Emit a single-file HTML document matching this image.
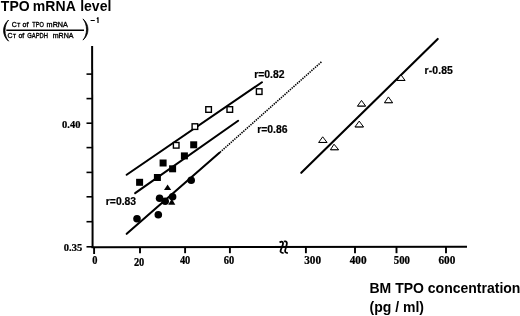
<!DOCTYPE html>
<html><head><meta charset="utf-8"><style>
html,body{margin:0;padding:0;background:#fff;width:520px;height:316px;overflow:hidden}
svg{display:block;filter:grayscale(1)}
</style></head><body>
<svg width="520" height="316" viewBox="0 0 520 316">
<rect width="520" height="316" fill="#fff"/>
<line x1="92.1" y1="46" x2="92.6" y2="248" stroke="#000" stroke-width="2"/>
<line x1="91.5" y1="247.35" x2="467" y2="246.8" stroke="#000" stroke-width="2"/>
<line x1="86.5" y1="74.1" x2="92.5" y2="74.1" stroke="#000" stroke-width="1.6"/>
<line x1="86.5" y1="98.6" x2="92.5" y2="98.6" stroke="#000" stroke-width="1.6"/>
<line x1="86.5" y1="123.2" x2="92.5" y2="123.2" stroke="#000" stroke-width="1.6"/>
<line x1="86.5" y1="147.6" x2="92.5" y2="147.6" stroke="#000" stroke-width="1.6"/>
<line x1="86.5" y1="172.4" x2="92.5" y2="172.4" stroke="#000" stroke-width="1.6"/>
<line x1="86.5" y1="196.8" x2="92.5" y2="196.8" stroke="#000" stroke-width="1.6"/>
<line x1="86.5" y1="221.7" x2="92.5" y2="221.7" stroke="#000" stroke-width="1.6"/>
<line x1="86.5" y1="246.8" x2="92.5" y2="246.8" stroke="#000" stroke-width="1.6"/>
<line x1="94.1" y1="247" x2="94.1" y2="254" stroke="#000" stroke-width="1.9"/>
<line x1="140" y1="247" x2="140" y2="253.2" stroke="#000" stroke-width="1.9"/>
<line x1="185.1" y1="247" x2="185.1" y2="253.2" stroke="#000" stroke-width="1.9"/>
<line x1="229.9" y1="247" x2="229.9" y2="253.2" stroke="#000" stroke-width="1.9"/>
<line x1="305.9" y1="247" x2="305.9" y2="253.2" stroke="#000" stroke-width="1.9"/>
<line x1="355" y1="247" x2="355" y2="253.2" stroke="#000" stroke-width="1.9"/>
<line x1="396.5" y1="247" x2="396.5" y2="253.2" stroke="#000" stroke-width="1.9"/>
<line x1="446" y1="247" x2="446" y2="253.2" stroke="#000" stroke-width="1.9"/>
<path d="M279.6 242.6 C280.3 241.6 282.2 241.4 282.8 242.3 C283.4 243.3 282.8 245.3 282 247 C281.2 248.8 280.2 250.6 280.5 251.7 C281 252.7 282.4 253.1 283.6 253.2" fill="none" stroke="#000" stroke-width="1.8"/>
<path d="M284 241.5 C284.8 241.1 286.2 241.3 286.8 242.5 C287.2 243.6 286.4 246 285.6 248.5 C285 250.2 284.8 251.4 285.4 252.2 C286 252.8 287 253 287.8 253" fill="none" stroke="#000" stroke-width="1.8"/>
<line x1="126.66" y1="174.75" x2="261.94" y2="82.25" stroke="#000" stroke-width="2.1" stroke-linecap="round"/>
<line x1="135.15" y1="193.04" x2="238.15" y2="120.76" stroke="#000" stroke-width="2.1" stroke-linecap="round"/>
<line x1="126.70" y1="233.77" x2="219.40" y2="152.83" stroke="#000" stroke-width="2.1" stroke-linecap="round"/>
<line x1="220" y1="152.3" x2="322" y2="61.4" stroke="#000" stroke-width="1.6" stroke-dasharray="1.4 1.0"/>
<line x1="301.27" y1="172.84" x2="437.73" y2="38.96" stroke="#000" stroke-width="2.1" stroke-linecap="round"/>
<rect x="173.40" y="142.50" width="5.60" height="5.60" fill="#fff" stroke="#000" stroke-width="1.4"/>
<rect x="192.10" y="123.80" width="5.60" height="5.60" fill="#fff" stroke="#000" stroke-width="1.4"/>
<rect x="205.80" y="106.70" width="5.60" height="5.60" fill="#fff" stroke="#000" stroke-width="1.4"/>
<rect x="227.00" y="106.70" width="5.60" height="5.60" fill="#fff" stroke="#000" stroke-width="1.4"/>
<rect x="256.40" y="88.80" width="5.60" height="5.60" fill="#fff" stroke="#000" stroke-width="1.4"/>
<rect x="136.1" y="178.8" width="7.0" height="7.0" fill="#000"/>
<rect x="153.9" y="174.0" width="7.0" height="7.0" fill="#000"/>
<rect x="159.6" y="159.5" width="7.0" height="7.0" fill="#000"/>
<rect x="169.1" y="165.3" width="7.0" height="7.0" fill="#000"/>
<rect x="180.9" y="152.4" width="7.0" height="7.0" fill="#000"/>
<rect x="190.2" y="141.3" width="7.0" height="7.0" fill="#000"/>
<path d="M167.6 184.6 L171.2 190.0 L164.0 190.0 Z" fill="#000"/>
<circle cx="137.0" cy="218.8" r="3.8" fill="#000"/>
<circle cx="158.3" cy="214.8" r="3.8" fill="#000"/>
<circle cx="159.6" cy="198.2" r="3.8" fill="#000"/>
<circle cx="165.2" cy="201.2" r="3.8" fill="#000"/>
<circle cx="172.6" cy="196.8" r="3.8" fill="#000"/>
<circle cx="191.2" cy="180.3" r="3.8" fill="#000"/>
<path d="M171.8 198.8 L175.3 204.7 L168.2 204.7 Z" fill="#000"/>
<path d="M322.7 136.8 L327.1 142.5 L318.6 142.5 Z" fill="#fff" stroke="#000" stroke-width="1.0" stroke-linejoin="miter"/><line x1="319.0" y1="142.4" x2="326.7" y2="142.4" stroke="#000" stroke-width="0.6"/>
<path d="M334.0 144.2 L338.7 149.8 L330.4 149.8 Z" fill="#fff" stroke="#000" stroke-width="1.0" stroke-linejoin="miter"/><line x1="330.8" y1="149.7" x2="338.3" y2="149.7" stroke="#000" stroke-width="0.6"/>
<path d="M361.5 100.4 L365.7 106.2 L357.4 106.2 Z" fill="#fff" stroke="#000" stroke-width="1.0" stroke-linejoin="miter"/><line x1="357.8" y1="106.0" x2="365.3" y2="106.0" stroke="#000" stroke-width="0.6"/>
<path d="M388.4 96.9 L392.7 102.8 L384.4 102.8 Z" fill="#fff" stroke="#000" stroke-width="1.0" stroke-linejoin="miter"/><line x1="384.8" y1="102.6" x2="392.3" y2="102.6" stroke="#000" stroke-width="0.6"/>
<path d="M359.2 121.1 L363.6 127.0 L354.9 127.0 Z" fill="#fff" stroke="#000" stroke-width="1.0" stroke-linejoin="miter"/><line x1="355.3" y1="126.9" x2="363.2" y2="126.9" stroke="#000" stroke-width="0.6"/>
<path d="M401.0 74.8 L405.1 80.5 L396.9 80.5 Z" fill="#fff" stroke="#000" stroke-width="1.0" stroke-linejoin="miter"/><line x1="397.3" y1="80.3" x2="404.7" y2="80.3" stroke="#000" stroke-width="0.6"/>
<line x1="6.3" y1="30.2" x2="84" y2="30.2" stroke="#000" stroke-width="1.5"/>
<path d="M8.6 20 C1.9 25.5 1.9 35.5 8.6 41.2 C3.8 35.5 3.8 25.5 8.6 20 Z" fill="#000" stroke="#000" stroke-width="0.8" stroke-linejoin="round"/>
<path d="M83 18.9 C89.6 24.6 89.6 34.4 83 40.1 C87.7 34.4 87.7 24.6 83 18.9 Z" fill="#000" stroke="#000" stroke-width="0.8" stroke-linejoin="round"/>
<line x1="90.6" y1="20.5" x2="94.8" y2="20.5" stroke="#000" stroke-width="1"/>
<path d="M98 23 L98 17.7 L96.9 18.9" fill="none" stroke="#000" stroke-width="1.2" stroke-linejoin="round"/>
<text y="10.5" font-family='"Liberation Sans", sans-serif' font-weight="bold" font-size="14"><tspan x="0.85">TPO</tspan><tspan x="32.7" letter-spacing="0.15">mRNA</tspan><tspan x="80.2">level</tspan></text>
<text x="11.75" y="27.2" font-family='"Liberation Sans", sans-serif' font-size="7" stroke="#000" stroke-width="0.35">C<tspan font-size="5" dx="0.5">T</tspan></text>
<text x="22.6" y="27.2" font-family='"Liberation Sans", sans-serif' font-size="7" stroke="#000" stroke-width="0.35">of</text>
<text x="32.37" y="27.2" textLength="11.5" lengthAdjust="spacingAndGlyphs" font-family='"Liberation Sans", sans-serif' font-size="7" stroke="#000" stroke-width="0.35">TPO</text>
<text x="46.62" y="27.2" textLength="21.29" lengthAdjust="spacingAndGlyphs" font-family='"Liberation Sans", sans-serif' font-size="7" stroke="#000" stroke-width="0.35">mRNA</text>
<text x="7.55" y="37.6" font-family='"Liberation Sans", sans-serif' font-size="7" stroke="#000" stroke-width="0.35">C<tspan font-size="5" dx="0.5">T</tspan></text>
<text x="18.4" y="37.6" font-family='"Liberation Sans", sans-serif' font-size="7" stroke="#000" stroke-width="0.35">of</text>
<text x="27.21" y="37.6" textLength="20.77" lengthAdjust="spacingAndGlyphs" font-family='"Liberation Sans", sans-serif' font-size="7" stroke="#000" stroke-width="0.35">GAPDH</text>
<text x="52.73" y="37.6" textLength="20.78" lengthAdjust="spacingAndGlyphs" font-family='"Liberation Sans", sans-serif' font-size="7" stroke="#000" stroke-width="0.35">mRNA</text>
<text transform="translate(80.5,127.7) scale(0.93,1)" text-anchor="end" font-family='"Liberation Serif", serif' font-weight="bold" font-size="11.3" stroke="#000" stroke-width="0.25">0.40</text>
<text transform="translate(82.2,250.7) scale(0.93,1)" text-anchor="end" font-family='"Liberation Serif", serif' font-weight="bold" font-size="11.3" stroke="#000" stroke-width="0.25">0.35</text>
<text transform="translate(92.2,264.4) scale(0.9,1)" text-anchor="start" font-family='"Liberation Serif", serif' font-weight="bold" font-size="11.6" stroke="#000" stroke-width="0.25">0</text>
<text transform="translate(133.89999999999998,265.8) scale(0.9,1)" text-anchor="start" font-family='"Liberation Serif", serif' font-weight="bold" font-size="11.6" stroke="#000" stroke-width="0.25">20</text>
<text transform="translate(179.89999999999998,264.4) scale(0.9,1)" text-anchor="start" font-family='"Liberation Serif", serif' font-weight="bold" font-size="11.6" stroke="#000" stroke-width="0.25">40</text>
<text transform="translate(223.7,264.4) scale(0.9,1)" text-anchor="start" font-family='"Liberation Serif", serif' font-weight="bold" font-size="11.6" stroke="#000" stroke-width="0.25">60</text>
<text transform="translate(304.2,264.4) scale(0.97,1)" text-anchor="start" font-family='"Liberation Serif", serif' font-weight="bold" font-size="11.6" stroke="#000" stroke-width="0.25">300</text>
<text transform="translate(349.7,264.4) scale(0.97,1)" text-anchor="start" font-family='"Liberation Serif", serif' font-weight="bold" font-size="11.6" stroke="#000" stroke-width="0.25">400</text>
<text transform="translate(393.8,264.4) scale(0.93,1)" text-anchor="start" font-family='"Liberation Serif", serif' font-weight="bold" font-size="11.6" stroke="#000" stroke-width="0.25">500</text>
<text transform="translate(438.4,264.4) scale(0.97,1)" text-anchor="start" font-family='"Liberation Serif", serif' font-weight="bold" font-size="11.6" stroke="#000" stroke-width="0.25">600</text>
<text x="105.8" y="205.4" font-family='"Liberation Sans", sans-serif' font-weight="bold" font-size="10.4" stroke="#000" stroke-width="0.2">r=0.83</text>
<text x="254.2" y="77.5" font-family='"Liberation Sans", sans-serif' font-weight="bold" font-size="10.4" stroke="#000" stroke-width="0.2">r=0.82</text>
<text x="257.2" y="132.8" font-family='"Liberation Sans", sans-serif' font-weight="bold" font-size="10.4" stroke="#000" stroke-width="0.2">r=0.86</text>
<text x="424.5" y="73.6" font-family='"Liberation Sans", sans-serif' font-weight="bold" font-size="10.4" letter-spacing="0.12" stroke="#000" stroke-width="0.2">r-0.85</text>
<text x="369.5" y="292.9" font-family='"Liberation Sans", sans-serif' font-weight="bold" font-size="14">BM TPO concentration</text>
<text x="369.5" y="312" font-family='"Liberation Sans", sans-serif' font-weight="bold" font-size="14">(pg / ml)</text>
</svg>
</body></html>
